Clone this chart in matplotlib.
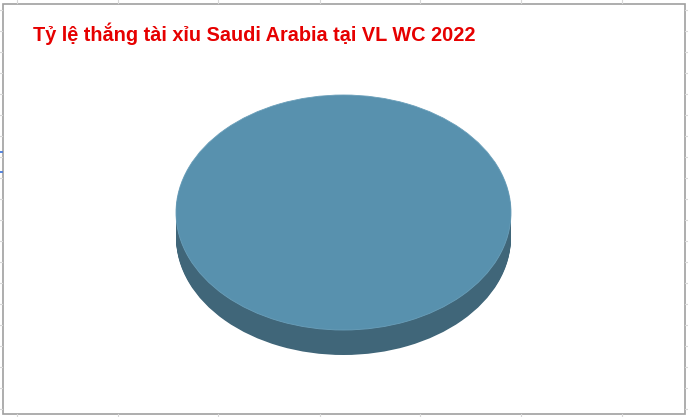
import numpy as np
import matplotlib.pyplot as plt
from matplotlib.patches import Rectangle

plt.rcParams['font.family'] = ['Liberation Sans', 'DejaVu Sans']

# data: one category only, so the pie is a full disc
labels = ["Tài"]
values = [100]
title = "Tỷ lệ thắng tài xỉu Saudi Arabia tại VL WC 2022"

top_color = "#5891ae"
side_color = "#406679"

W, H = 688, 417
fig = plt.figure(figsize=(W / 100, H / 100), dpi=100)
fig.patch.set_facecolor("white")

# chart frame (excel style) with faint sheet gridlines outside
bg = fig.add_axes([0, 0, 1, 1])
bg.set_xlim(0, W)
bg.set_ylim(H, 0)
bg.axis("off")
for gx in [17, 118, 218, 320, 420, 521, 622]:
    bg.plot([gx, gx], [0, 3], color="#d8d8d8", lw=0.8)
    bg.plot([gx, gx], [414, H], color="#d8d8d8", lw=0.8)
for gy in np.arange(10, 414, 21):
    bg.plot([0, 2], [gy, gy], color="#d8d8d8", lw=0.8)
    bg.plot([685, W], [gy, gy], color="#d8d8d8", lw=0.8)
bg.plot([0, 2], [152, 152], color="#3a6fd8", lw=1.2)
bg.plot([0, 2], [172, 172], color="#3a6fd8", lw=1.2)
bg.add_patch(Rectangle((2.5, 3.5), 682.5, 410.5, fill=False, ec="#a0a0a0", lw=1.2))
bg.text(33, 34, title, color="#e60000", fontsize=14.3, fontweight="bold", va="center", ha="left")

# 3d-ish pie: stacked dark copies for the side, then the top
depth = 25 / 117.5
x0, x1, y0, y1 = 176, 511, 95, 355
ax = fig.add_axes([x0 / W, 1 - y1 / H, (x1 - x0) / W, (y1 - y0) / H])
for off in np.linspace(depth, 0, 30)[:-1]:
    ax.pie(values, colors=[side_color], center=(0, -off), radius=1,
           startangle=90, counterclock=False, frame=True,
           wedgeprops=dict(linewidth=0))
ax.pie(values, colors=[top_color], center=(0, 0), radius=1,
       startangle=90, counterclock=False, frame=True,
       wedgeprops=dict(linewidth=0.6, edgecolor="#6a9fba"))
ax.set_aspect("auto")
ax.set_xlim(-1, 1)
ax.set_ylim(-1 - depth, 1)
ax.axis("off")

fig.savefig("out.png", dpi=100)
